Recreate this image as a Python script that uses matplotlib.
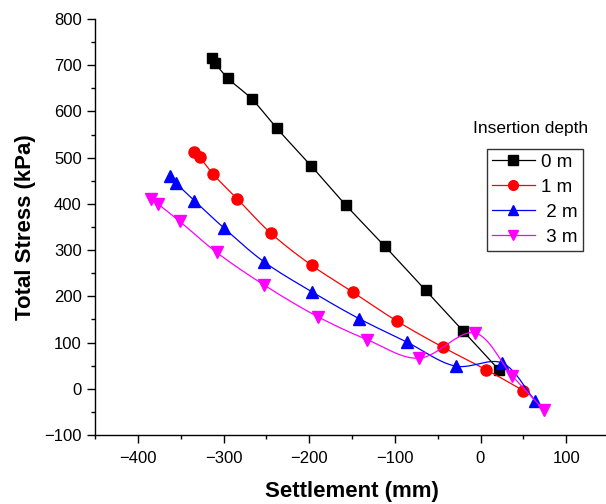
import matplotlib
matplotlib.use("Agg")
import matplotlib.pyplot as plt
import numpy as np
from matplotlib.ticker import MultipleLocator

plt.rcParams['font.family'] = ['Liberation Sans', 'DejaVu Sans']

# settlement (mm) and total stress (kPa) for each insertion depth
settle_0m = [-314, -310, -295, -267, -238, -198, -157, -112, -64, -20, 22]
stress_0m = [716, 705, 672, 627, 564, 483, 397, 309, 213, 125, 40]

settle_1m = [-335, -328, -312, -284, -245, -197, -149, -98, -44, 7, 50]
stress_1m = [512, 501, 464, 411, 337, 267, 209, 147, 90, 41, -4]

settle_2m = [-363, -356, -334, -299, -253, -197, -142, -86, -29, 25, 64]
stress_2m = [460, 446, 407, 347, 275, 210, 152, 101, 49, 56, -26]

settle_3m = [-385, -376, -351, -308, -253, -190, -132, -72, -7, 37, 74]
stress_3m = [411, 399, 362, 295, 225, 156, 106, 66, 121, 28, -46]

depth_labels = ['0 m', '1 m', ' 2 m', ' 3 m']
colors = ['black', 'red', 'blue', 'magenta']
markers = ['s', 'o', '^', 'v']
msizes = [7.5, 8, 8.5, 8.5]


def smooth(x, y, n=30):
    # centripetal Catmull-Rom curve through the measured points
    p = np.column_stack([x, y]).astype(float)
    p = np.vstack([2 * p[0] - p[1], p, 2 * p[-1] - p[-2]])
    # scale so distances are measured in screen-like units
    s = np.array([1.0, 600.0 / 900.0 * 416 / 514])
    q = p * s
    out = []
    for i in range(1, len(p) - 2):
        P0, P1, P2, P3 = q[i - 1], q[i], q[i + 1], q[i + 2]
        t0 = 0.0
        t1 = t0 + np.linalg.norm(P1 - P0) ** 0.5
        t2 = t1 + np.linalg.norm(P2 - P1) ** 0.5
        t3 = t2 + np.linalg.norm(P3 - P2) ** 0.5
        t = np.linspace(t1, t2, n)[:, None]
        A1 = (t1 - t) / (t1 - t0) * P0 + (t - t0) / (t1 - t0) * P1
        A2 = (t2 - t) / (t2 - t1) * P1 + (t - t1) / (t2 - t1) * P2
        A3 = (t3 - t) / (t3 - t2) * P2 + (t - t2) / (t3 - t2) * P3
        B1 = (t2 - t) / (t2 - t0) * A1 + (t - t0) / (t2 - t0) * A2
        B2 = (t3 - t) / (t3 - t1) * A2 + (t - t1) / (t3 - t1) * A3
        C = (t2 - t) / (t2 - t1) * B1 + (t - t1) / (t2 - t1) * B2
        out.append(C)
    c = np.vstack(out) / s
    return c[:, 0], c[:, 1]


fig = plt.figure(figsize=(6.06, 5.04), dpi=100)
ax = fig.add_axes([95 / 606, 69 / 504, 514 / 606, 416 / 504])

series = [(settle_0m, stress_0m), (settle_1m, stress_1m),
          (settle_2m, stress_2m), (settle_3m, stress_3m)]
handles = []
for (sx, sy), lab, c, m, ms in zip(series, depth_labels, colors, markers, msizes):
    cx, cy = smooth(sx, sy)
    ax.plot(cx, cy, color=c, lw=0.9)
    ax.plot(sx, sy, linestyle='none', marker=m, ms=ms, color=c, mec=c)
    h, = ax.plot([], [], color=c, lw=0.9, marker=m, ms=7, mec=c, label=lab)
    handles.append(h)

ax.set_xlim(-450, 150)
ax.set_ylim(-100, 800)
ax.xaxis.set_major_locator(MultipleLocator(100))
ax.xaxis.set_minor_locator(MultipleLocator(50))
ax.yaxis.set_major_locator(MultipleLocator(100))
ax.yaxis.set_minor_locator(MultipleLocator(50))
ax.spines['top'].set_visible(False)
ax.spines['right'].set_visible(False)
for sp in ('left', 'bottom'):
    ax.spines[sp].set_linewidth(1.0)
ax.tick_params(which='major', direction='out', length=5.5, width=1.0,
               labelsize=12, pad=4)
ax.tick_params(which='minor', direction='out', length=3, width=1.0)
ax.tick_params(axis='x', which='major', pad=6)

ax.set_xlabel('Settlement (mm)', fontsize=16, fontweight='bold', labelpad=11)
ax.set_ylabel('Total Stress (kPa)', fontsize=16, fontweight='bold', labelpad=6)

leg = fig.legend(handles=handles, loc='upper left',
                 bbox_to_anchor=(487 / 606, 1 - 149 / 504),
                 borderaxespad=0, fontsize=13.5, frameon=True, fancybox=False,
                 edgecolor='black', handlelength=2.3, handletextpad=0.35,
                 labelspacing=0.42, borderpad=0.25)
leg.get_frame().set_linewidth(1.0)
fig.text(531 / 606, 1 - 129 / 504, 'Insertion depth', fontsize=12.5,
         ha='center', va='center')

fig.savefig('out.png', dpi=100)
